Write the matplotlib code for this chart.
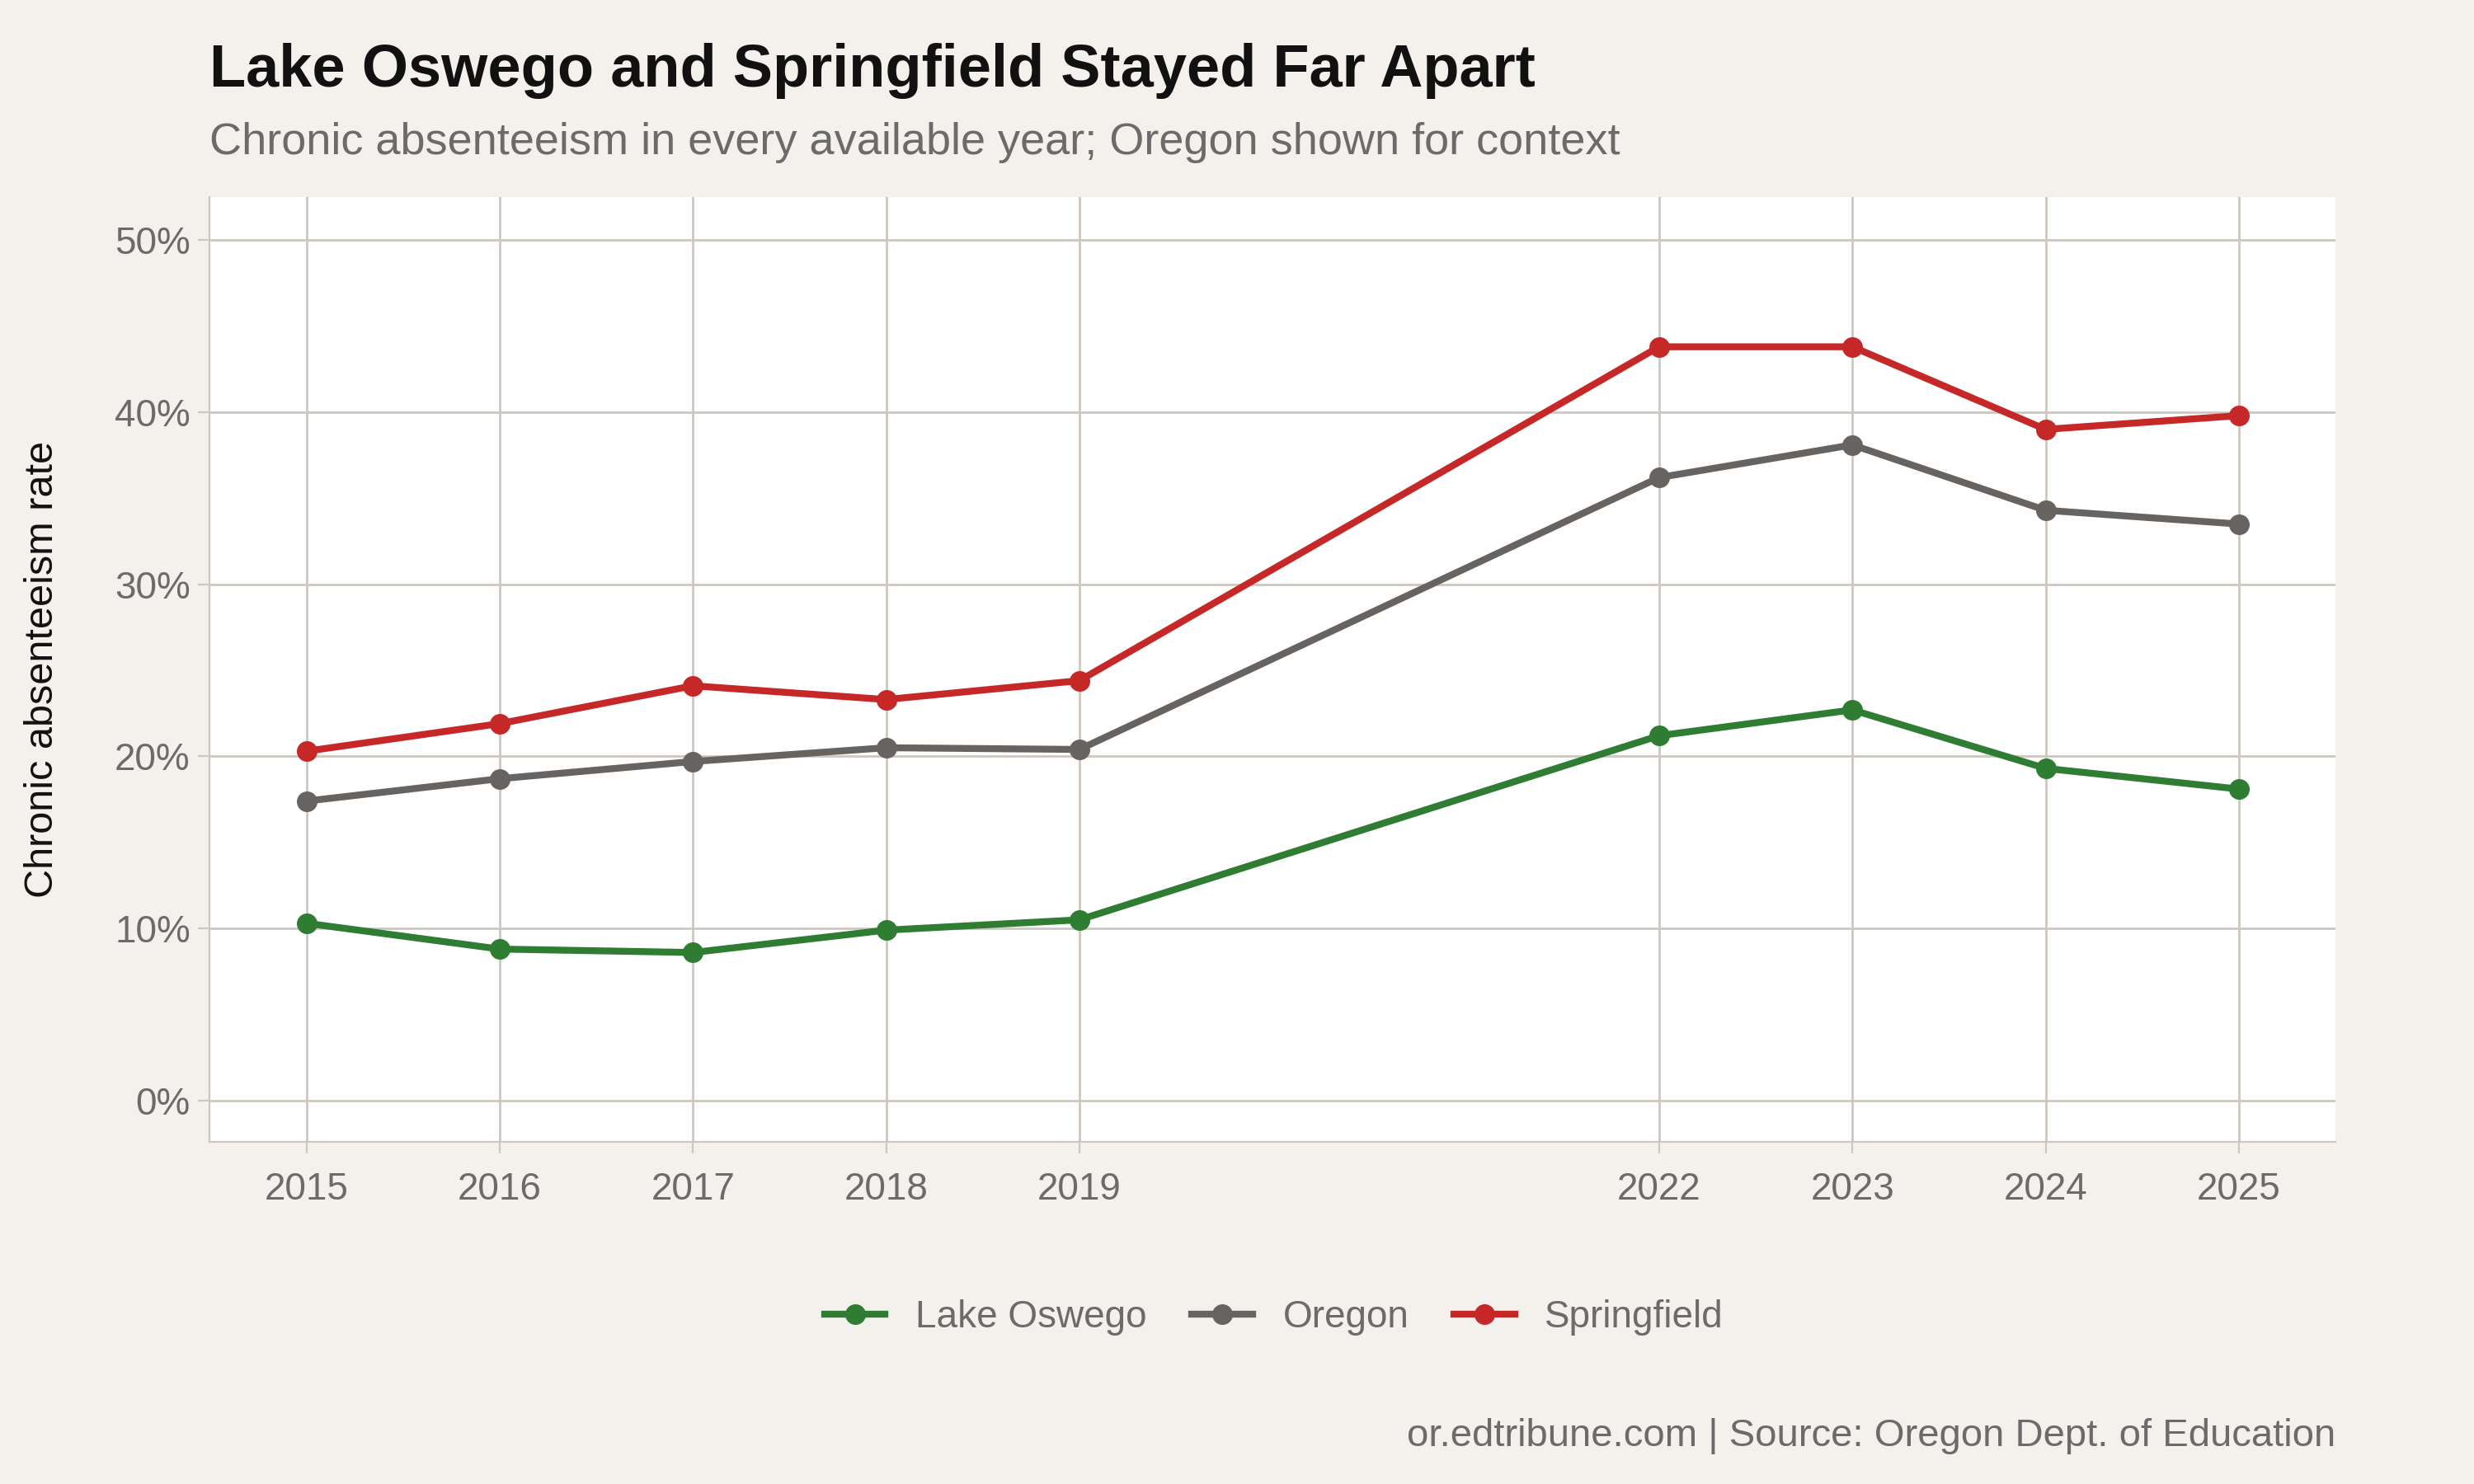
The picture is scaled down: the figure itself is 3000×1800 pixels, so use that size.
import matplotlib.pyplot as plt
from matplotlib.ticker import FuncFormatter

# Data
years = [2015, 2016, 2017, 2018, 2019, 2022, 2023, 2024, 2025]
lake_oswego = [10.3, 8.8, 8.6, 9.9, 10.5, 21.2, 22.7, 19.3, 18.1]
oregon = [17.4, 18.7, 19.7, 20.5, 20.4, 36.2, 38.1, 34.3, 33.5]
springfield = [20.3, 21.9, 24.1, 23.3, 24.4, 43.8, 43.8, 39.0, 39.8]

series = [
    ('Lake Oswego', lake_oswego, '#2e7d32'),
    ('Oregon', oregon, '#676360'),
    ('Springfield', springfield, '#c62828'),
]

bg = '#f4f1ec'
grid_c = '#cdc8bf'
text_c = '#6b6b6b'

plt.rcParams['font.family'] = ['Liberation Sans', 'DejaVu Sans']

fig = plt.figure(figsize=(15, 9), dpi=200, facecolor=bg)
ax = fig.add_axes([0.0848, 0.2306, 0.8592, 0.6366])
ax.set_facecolor('white')

for name, vals, color in series:
    ax.plot(years, vals, color=color, linewidth=3, marker='o', markersize=8, label=name)

ax.set_xlim(2014.5, 2025.5)
ax.set_ylim(-2.4, 52.5)
ax.set_xticks(years)
ax.set_yticks([0, 10, 20, 30, 40, 50])
ax.yaxis.set_major_formatter(FuncFormatter(lambda v, p: f'{v:.0f}%'))
ax.grid(True, color=grid_c, linewidth=1)
ax.set_axisbelow(True)
for s in ['top', 'right']:
    ax.spines[s].set_visible(False)
for s in ['left', 'bottom']:
    ax.spines[s].set_color(grid_c)
ax.tick_params(colors=text_c, labelsize=16.5, length=5, color=grid_c)
ax.tick_params(axis='x', pad=8)
ax.set_ylabel('Chronic absenteeism rate', fontsize=17.5, color='#111111')
ax.yaxis.set_label_coords(-0.07, 0.5)

fig.text(0.0848, 0.952, 'Lake Oswego and Springfield Stayed Far Apart',
         fontsize=26, fontweight='bold', color='#111111', va='center')
fig.text(0.0848, 0.904, 'Chronic absenteeism in every available year; Oregon shown for context',
         fontsize=19.5, color=text_c, va='center')
fig.text(0.944, 0.032, 'or.edtribune.com | Source: Oregon Dept. of Education',
         fontsize=17, color=text_c, ha='right', va='center')

fig.legend(loc='center', bbox_to_anchor=(0.515, 0.112), ncol=3, frameon=False,
           fontsize=16.5, labelcolor=text_c, handlelength=1.6, columnspacing=1.2,
           handletextpad=0.8)

fig.savefig('out.png', dpi=200, facecolor=bg)
